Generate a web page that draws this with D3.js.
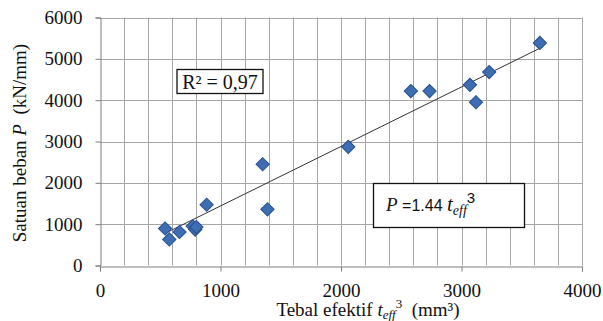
<html>
<head>
<meta charset="UTF-8">
<title>Satuan beban vs tebal efektif</title>
<script src="https://d3js.org/d3.v7.min.js"></script>
<style>
  body { margin: 0; background: #fff; }
  text { font-family: "Liberation Serif", "Times New Roman", serif; fill: #111; }
</style>
</head>
<body>
<div id="chart"></div>
<script>
// data
var tEff = [540, 575, 660, 770, 790, 800, 885, 1350, 1390, 2060, 2580, 2735, 3070, 3120, 3230, 3650];
var beban = [895, 630, 810, 950, 870, 930, 1470, 2450, 1360, 2870, 4220, 4220, 4370, 3950, 4680, 5385];
var xTicks = [0, 1000, 2000, 3000, 4000];
var yTicks = [0, 1000, 2000, 3000, 4000, 5000, 6000];
var slope = 1.44;

var W = 603, H = 321;
var plotL = 100, plotR = 582, plotT = 17.5, plotB = 265.5;

var svg = d3.select("#chart").append("svg")
  .attr("width", W)
  .attr("height", H);

var x = d3.scaleLinear().domain([0, 4000]).range([plotL, plotR]);
var y = d3.scaleLinear().domain([0, 6000]).range([plotB, plotT]);

// grid: vertical every 200, horizontal every 1000
var grid = svg.append("g").attr("stroke", "#a6a6a6").attr("stroke-width", 1);
grid.selectAll("line.v")
  .data(d3.range(200, 4001, 200))
  .enter().append("line")
  .attr("x1", d => Math.round(x(d)) + 0.5).attr("x2", d => Math.round(x(d)) + 0.5)
  .attr("y1", plotT).attr("y2", plotB);
grid.selectAll("line.h")
  .data(yTicks.slice(1))
  .enter().append("line")
  .attr("x1", plotL).attr("x2", plotR)
  .attr("y1", d => Math.round(y(d)) + 0.5).attr("y2", d => Math.round(y(d)) + 0.5);

// axes
var yAxis = d3.axisLeft(y).tickValues(yTicks).tickFormat(d3.format("d")).tickSize(5).tickPadding(13);
var xAxis = d3.axisBottom(x).tickValues(xTicks).tickFormat(d3.format("d")).tickSize(5).tickPadding(12);

var gy = svg.append("g")
  .attr("transform", "translate(" + (plotL + 0.5) + ",0)")
  .call(yAxis);
var gx = svg.append("g")
  .attr("transform", "translate(0," + (Math.round(plotB) + 0.5) + ")")
  .call(xAxis);

[gy, gx].forEach(function(g) {
  g.select(".domain").attr("stroke", "#7f7f7f");
  g.selectAll(".tick line").attr("stroke", "#7f7f7f");
  g.selectAll("text")
    .style("font-family", "'Liberation Serif', serif")
    .style("font-size", "19px")
    .attr("fill", "#111");
});

// trend line through the origin, drawn over the data range
var xr = d3.extent(tEff);
svg.append("line")
  .attr("x1", x(xr[0])).attr("y1", y(slope * xr[0]))
  .attr("x2", x(xr[1])).attr("y2", y(slope * xr[1]))
  .attr("stroke", "#333")
  .attr("stroke-width", 1);

// points
var pts = tEff.map((d, i) => [d, beban[i]]);
svg.append("g").selectAll("path")
  .data(pts)
  .enter().append("path")
  .attr("d", d3.symbol(d3.symbolSquare, 88))
  .attr("transform", d => "translate(" + x(d[0]) + "," + y(d[1]) + ") rotate(45)")
  .attr("fill", "#3e6db3")
  .attr("stroke", "#26508c")
  .attr("stroke-width", 1);

// R² box
svg.append("rect")
  .attr("x", 177).attr("y", 69.5).attr("width", 86).attr("height", 24)
  .attr("fill", "#fff").attr("stroke", "#111").attr("stroke-width", 1.3);
svg.append("text")
  .attr("x", 220).attr("y", 89)
  .attr("text-anchor", "middle")
  .style("font-size", "20px")
  .text("R² = 0,97");

// equation box
svg.append("rect")
  .attr("x", 373.5).attr("y", 183.5).attr("width", 151).attr("height", 44)
  .attr("fill", "#fff").attr("stroke", "#111").attr("stroke-width", 1.3);
var eq = svg.append("text").attr("x", 386).attr("y", 211);
eq.append("tspan").style("font-style", "italic").style("font-size", "19px").text("P");
eq.append("tspan").style("font-family", "'Liberation Sans', sans-serif").style("font-size", "16px").text(" =1.44 ");
eq.append("tspan").style("font-style", "italic").style("font-size", "21px").text("t");
eq.append("tspan").style("font-style", "italic").style("font-size", "14px").attr("dy", 4).text("eff");
eq.append("tspan").style("font-family", "'Liberation Sans', sans-serif").style("font-size", "15px").attr("dy", -12).text("3");

// x title
var xt = svg.append("text")
  .attr("x", 368).attr("y", 316)
  .attr("text-anchor", "middle")
  .style("font-size", "19px")
  .style("white-space", "pre");
xt.append("tspan").text("Tebal efektif ");
xt.append("tspan").style("font-style", "italic").text("t");
xt.append("tspan").style("font-style", "italic").style("font-size", "13px").attr("dy", 3).text("eff");
xt.append("tspan").style("font-size", "13px").attr("dy", -11).text("3");
xt.append("tspan").attr("dy", 8).text("  (mm³)");

// y title
var yt = svg.append("text")
  .attr("transform", "translate(26,143) rotate(-90)")
  .attr("text-anchor", "middle")
  .style("font-size", "19px")
  .style("white-space", "pre");
yt.append("tspan").text("Satuan beban ");
yt.append("tspan").style("font-style", "italic").text("P");
yt.append("tspan").text("  (kN/mm)");
</script>
</body>
</html>
